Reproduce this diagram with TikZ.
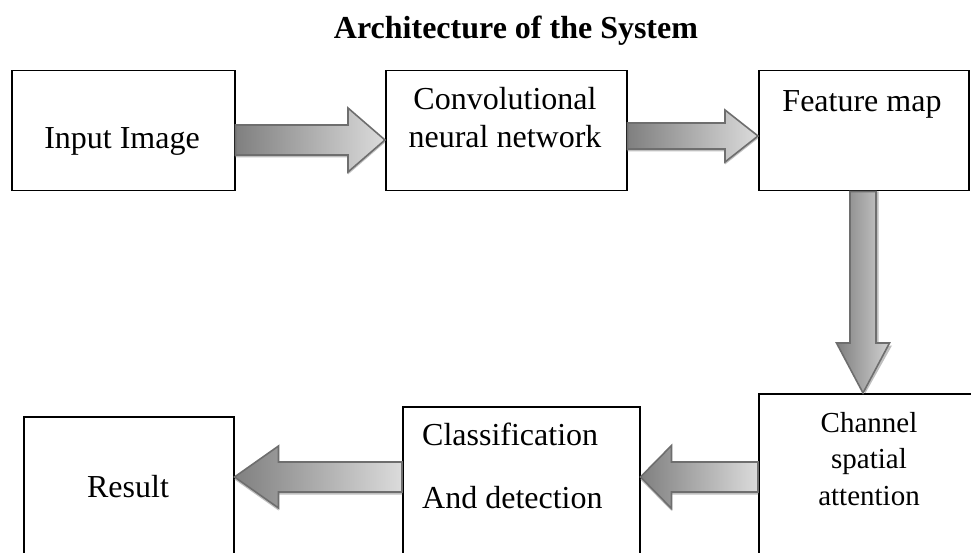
\documentclass[tikz,border=0pt]{standalone}
\usepackage{fontspec}
\setmainfont{Liberation Serif}
\usetikzlibrary{calc}
\tikzset{
  box/.style={draw=black, line width=1.5pt, rectangle, inner sep=0pt, anchor=north west},
  lbl/.style={font=\fontsize{32}{38}\selectfont, inner sep=0pt, anchor=base},
  lblsmall/.style={font=\fontsize{29}{35}\selectfont, inner sep=0pt, anchor=base},
  ttl/.style={font=\fontsize{32}{38}\selectfont\bfseries, inner sep=0pt, anchor=base},
  arrowshadow/.style={fill=black!25},
  arrowbody/.style={draw=black!57, line width=1.6pt, line join=miter, left color=black!50, right color=black!14},
  arrowbodyv/.style={draw=black!57, line width=1.6pt, line join=miter, left color=black!50, right color=black!18},
}
% #1 start anchor, #2 tip anchor, #3 centre y, #4 shaft half, #5 head half, #6 head length
\newcommand{\harrow}[6]{%
  \foreach \shx/\shy/\sty in {2.5/-2.5/arrowshadow, 0/0/arrowbody}{
  \path[\sty, shift={(\shx pt,\shy pt)}] let \p1=(#1), \p2=(#2), \n1={sign(\x2-\x1)} in
    (\x1,{(#3+#4)*1pt}) -- ({\x2-\n1*(#6)*1pt},{(#3+#4)*1pt})
    -- ({\x2-\n1*(#6)*1pt},{(#3+#5)*1pt}) -- (\x2,{(#3)*1pt})
    -- ({\x2-\n1*(#6)*1pt},{(#3-#5)*1pt}) -- ({\x2-\n1*(#6)*1pt},{(#3-#4)*1pt})
    -- (\x1,{(#3-#4)*1pt}) -- cycle;
  }%
}
\begin{document}
\begin{tikzpicture}[x=1pt,y=1pt]
\useasboundingbox (0,0) rectangle (971,552);
\clip (0,0) rectangle (971,552);
\fill[white] (0,0) rectangle (971,552);

\node[ttl] (title) at (516,513) {Architecture of the System};

% boxes
\node[box, minimum width=223pt, minimum height=120pt] (b1) at (11,482) {};
\node[box, minimum width=241pt, minimum height=120pt] (b2) at (385,482) {};
\node[box, minimum width=210pt, minimum height=120pt] (b3) at (758,482) {};
\node[box, minimum width=232pt, minimum height=180pt] (b4) at (758,159) {};
\node[box, minimum width=237pt, minimum height=170pt] (b5) at (402,146) {};
\node[box, minimum width=210pt, minimum height=160pt] (b6) at (23,136) {};

% labels
\node[lbl] (t1) at (122,403) {Input Image};
\node[lbl] (t2a) at (505,442) {Convolutional};
\node[lbl] (t2b) at (505,404) {neural network};
\node[lbl] (t3) at (862,440) {Feature map};
\node[lblsmall] (t4a) at (869,120) {Channel};
\node[lblsmall] (t4b) at (869,84) {spatial};
\node[lblsmall] (t4c) at (869,47) {attention};
\node[lbl, anchor=base west] (t5a) at (422,107) {Classification};
\node[lbl, anchor=base west] (t5b) at (422,44) {And detection};
\node[lbl] (t6) at (128,55) {Result};

% block arrows
\harrow{b1.east}{b2.west}{412}{15}{32}{37}
\harrow{b2.east}{b3.west}{416}{13}{26}{33}
\harrow{b4.west}{b5.east}{75}{15}{31.5}{31}
\harrow{b5.west}{b6.east}{75}{15}{31}{44}

% vertical arrow from feature map down to channel spatial attention
\foreach \shx/\shy/\sty in {2.5/-2.5/arrowshadow, 0/0/arrowbodyv}{
\path[\sty, shift={(\shx pt,\shy pt)}] let \p1=(b3.south), \p2=(b4.north) in
  (850,\y1) -- (850,209) -- (836.5,209) -- (863,\y2) -- (889.5,209)
  -- (876,209) -- (876,\y1) -- cycle;
}
\end{tikzpicture}
\end{document}
